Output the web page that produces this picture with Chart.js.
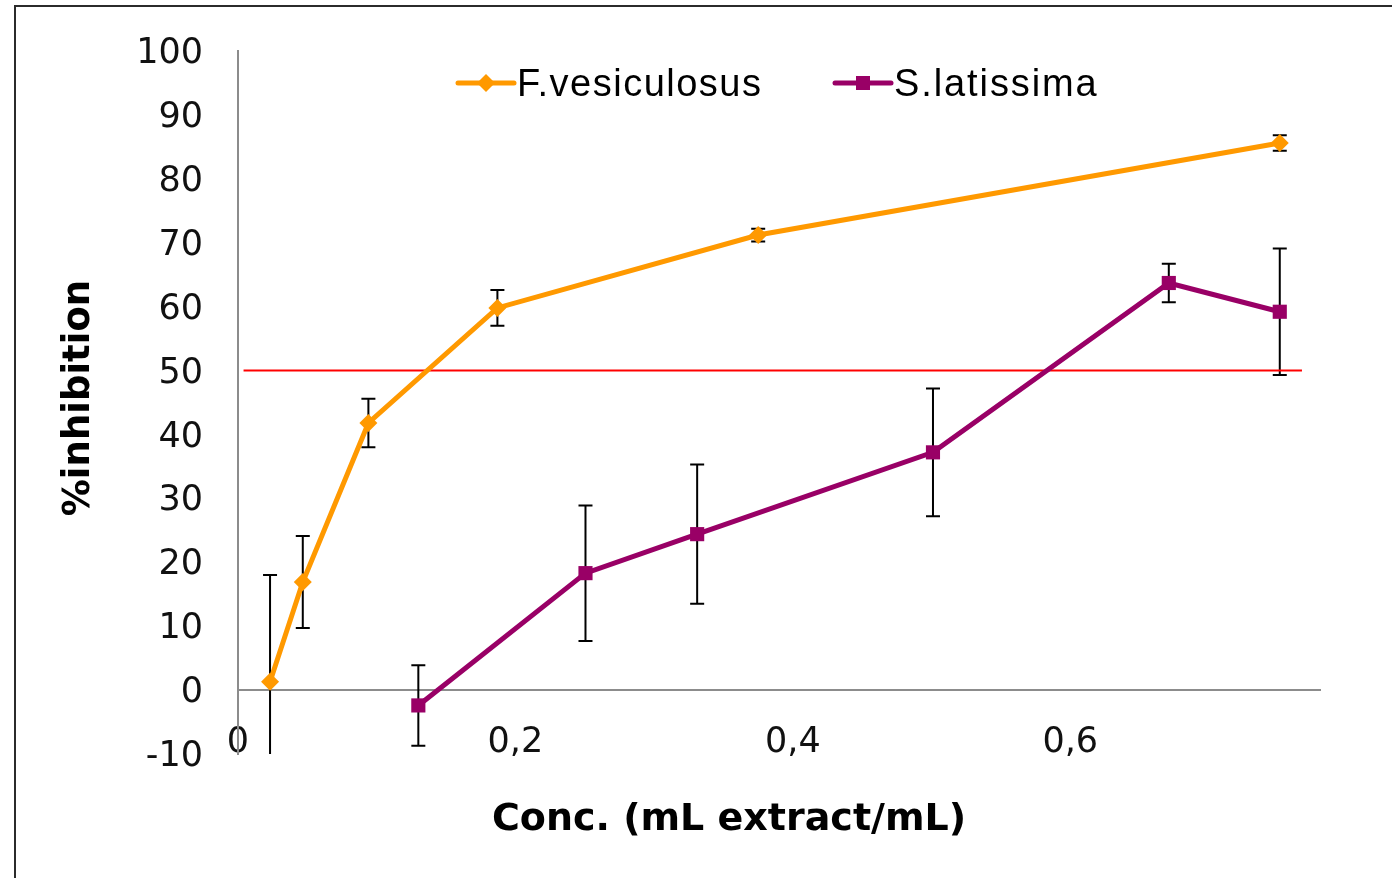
<!DOCTYPE html>
<html>
<head>
<meta charset="utf-8">
<title>% inhibition</title>
<script src="https://cdn.jsdelivr.net/npm/chart.js@4/dist/chart.umd.min.js"></script>
<style>
  html, body { margin: 0; padding: 0; background: #fff; }
  #wrap { position: relative; width: 1392px; height: 878px; overflow: hidden; }
  #frame { position: absolute; left: 14px; top: 5px; width: 1400px; height: 900px;
           border-left: 2px solid #2b2b2b; border-top: 2px solid #2b2b2b; }
  canvas { position: absolute; left: 0; top: 0; }
</style>
</head>
<body>
<div id="wrap">
  <div id="frame"></div>
  <canvas id="chart" width="1392" height="878"></canvas>
</div>
<script>
// values
const fvConc  = [0.0231, 0.0467, 0.094, 0.187, 0.375, 0.751];
const fvInhib = [1.3, 16.9, 41.8, 59.8, 71.2, 85.6];
const fvErr   = [16.7, 7.2, 3.8, 2.8, 1.0, 1.2];

const slConc  = [0.13, 0.2505, 0.331, 0.501, 0.671, 0.751];
const slInhib = [-2.4, 18.3, 24.4, 37.2, 63.7, 59.2];
const slErr   = [6.3, 10.6, 10.9, 10.0, 3.0, 9.9];

const refConc  = [0.004, 0.767];
const refLevel = [50, 50];

const xMin = 0, xMax = 0.78, xStep = 0.2;
const yMin = -10, yMax = 100, yStep = 10;

const ORANGE = '#FF9900';
const PLUM = '#990066';
const AXIS = '#8c8c8c';

const toPoints = (xs, ys) => xs.map((v, i) => ({ x: v, y: ys[i] }));

// whiskers, drawn under the markers
const errorBars = {
    id: 'errorBars',
    beforeDatasetsDraw(chart) {
        const { ctx, chartArea, scales: { x, y } } = chart;
        ctx.save();
        ctx.beginPath();
        ctx.rect(chartArea.left, chartArea.top, chartArea.width, chartArea.height);
        ctx.clip();
        ctx.strokeStyle = '#000';
        ctx.lineWidth = 2;
        [[fvConc, fvInhib, fvErr], [slConc, slInhib, slErr]].forEach(([xs, ys, es]) => {
            xs.forEach((c, i) => {
                const px = x.getPixelForValue(c);
                const top = y.getPixelForValue(ys[i] + es[i]);
                const bot = y.getPixelForValue(ys[i] - es[i]);
                ctx.beginPath();
                ctx.moveTo(px, top); ctx.lineTo(px, bot);
                ctx.moveTo(px - 7, top); ctx.lineTo(px + 7, top);
                ctx.moveTo(px - 7, bot); ctx.lineTo(px + 7, bot);
                ctx.stroke();
            });
        });
        ctx.restore();
    }
};

// legend sits inside the plot, so draw it by hand
const innerLegend = {
    id: 'innerLegend',
    afterDraw(chart) {
        const ctx = chart.ctx;
        const items = [
            { label: 'F.vesiculosus', color: ORANGE, shape: 'diamond', x0: 458, spacing: '1.5px' },
            { label: 'S.latissima', color: PLUM, shape: 'square', x0: 835, spacing: '1.9px' }
        ];
        ctx.save();
        ctx.font = '38px "Liberation Sans", Arial, sans-serif';
        ctx.textBaseline = 'alphabetic';
        const ly = 83;
        items.forEach(it => {
            ctx.strokeStyle = it.color;
            ctx.lineWidth = 5;
            ctx.lineCap = 'round';
            ctx.beginPath();
            ctx.moveTo(it.x0, ly); ctx.lineTo(it.x0 + 56, ly);
            ctx.stroke();
            const cx = it.x0 + 28;
            ctx.fillStyle = it.color;
            ctx.beginPath();
            if (it.shape === 'diamond') {
                ctx.moveTo(cx, ly - 9); ctx.lineTo(cx + 9, ly);
                ctx.lineTo(cx, ly + 9); ctx.lineTo(cx - 9, ly);
                ctx.closePath();
            } else {
                ctx.rect(cx - 7, ly - 7, 14, 14);
            }
            ctx.fill();
            ctx.fillStyle = '#000';
            ctx.letterSpacing = it.spacing;
            ctx.fillText(it.label, it.x0 + 59, 96);
            ctx.letterSpacing = '0px';
        });
        ctx.restore();
    }
};

const axisTitles = {
    id: 'axisTitles',
    afterDraw(chart) {
        const ctx = chart.ctx;
        ctx.save();
        ctx.fillStyle = '#000';
        ctx.textAlign = 'center';
        ctx.textBaseline = 'alphabetic';
        ctx.font = 'bold 38px "DejaVu Sans", Verdana, sans-serif';
        ctx.fillText('Conc. (mL extract/mL)', 729, 830);
        ctx.font = 'bold 37px "DejaVu Sans", Verdana, sans-serif';
        ctx.translate(89, 398);
        ctx.rotate(-Math.PI / 2);
        ctx.fillText('%inhibition', 0, 0);
        ctx.restore();
    }
};

new Chart(document.getElementById('chart'), {
    type: 'line',
    data: {
        datasets: [
            {
                label: 'F.vesiculosus',
                data: toPoints(fvConc, fvInhib),
                borderColor: ORANGE,
                backgroundColor: ORANGE,
                borderWidth: 5,
                pointStyle: 'rectRot',
                pointRadius: 9,
                pointBorderWidth: 0,
                order: 1
            },
            {
                label: 'S.latissima',
                data: toPoints(slConc, slInhib),
                borderColor: PLUM,
                backgroundColor: PLUM,
                borderWidth: 5,
                pointStyle: 'rect',
                pointRadius: 10,
                pointBorderWidth: 0,
                order: 2
            },
            {
                label: '50%',
                data: toPoints(refConc, refLevel),
                borderColor: '#FF0000',
                borderWidth: 2,
                pointRadius: 0,
                order: 3
            }
        ]
    },
    options: {
        responsive: false,
        animation: false,
        layout: { padding: { left: 0, right: 72, top: 51, bottom: 124 } },
        plugins: {
            legend: { display: false },
            tooltip: { enabled: false }
        },
        scales: {
            x: {
                type: 'linear',
                min: xMin,
                max: xMax,
                position: { y: 0 },
                grid: { display: false, drawTicks: false },
                border: { color: AXIS, width: 2 },
                ticks: {
                    stepSize: xStep,
                    includeBounds: false,
                    padding: 32,
                    color: '#111',
                    font: { family: '"DejaVu Sans", Verdana, sans-serif', size: 35 },
                    callback: v => v === 0 ? '0' : v.toFixed(1).replace('.', ',')
                }
            },
            y: {
                min: yMin,
                max: yMax,
                // invisible tick marks keep the labels off the axis without padding the top
                grid: { color: 'transparent', drawOnChartArea: false, drawTicks: true, tickLength: 30 },
                border: { color: AXIS, width: 2 },
                afterFit: scale => { scale.width = 238; },
                ticks: {
                    stepSize: yStep,
                    padding: 5,
                    labelOffset: 3,
                    color: '#111',
                    font: { family: '"DejaVu Sans", Verdana, sans-serif', size: 35 }
                }
            }
        }
    },
    plugins: [errorBars, innerLegend, axisTitles]
});
</script>
</body>
</html>
